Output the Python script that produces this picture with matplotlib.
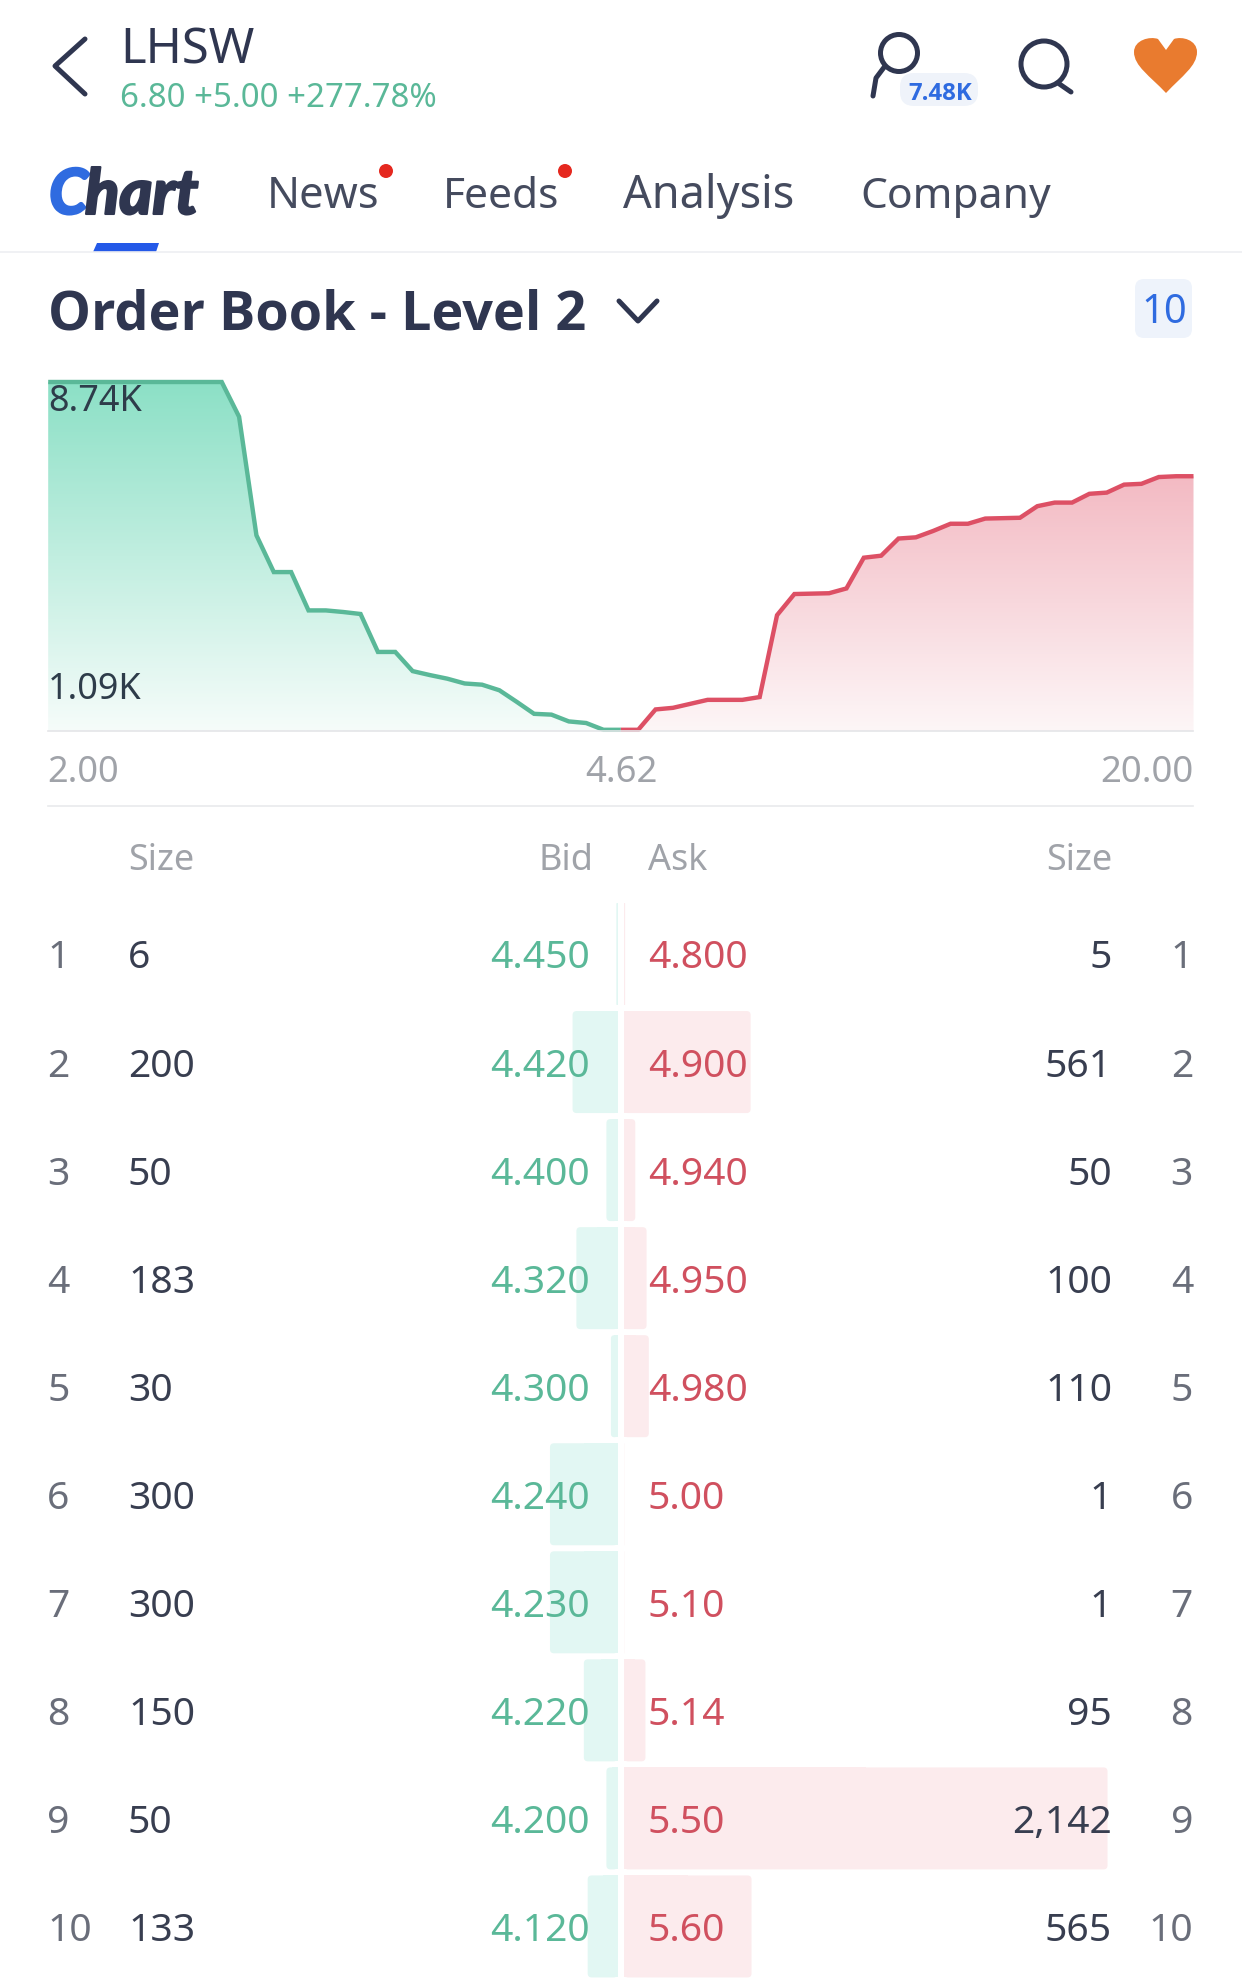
"""Order book screen: depth chart and level 2 table."""
import matplotlib
matplotlib.use("Agg")
import matplotlib.patheffects as pe
import matplotlib.pyplot as plt
import numpy as np
from matplotlib.colors import LinearSegmentedColormap
from matplotlib.patches import Circle, FancyBboxPatch, PathPatch, Polygon, Rectangle
from matplotlib.path import Path

W, H = 1242, 1982
DPI = 100

plt.rcParams["font.family"] = ["Noto Sans", "DejaVu Sans"]

# depth curves, thousands of shares, one value per step of the chart
bid_depth = [8.74, 8.74, 8.74, 8.74, 8.74, 8.74, 8.74, 8.74, 8.74, 8.74, 8.74,
             7.87, 4.90, 3.98, 3.98, 3.02, 3.02, 2.98, 2.93, 1.98, 1.98, 1.50,
             1.40, 1.31, 1.19, 1.16, 1.02, 0.73, 0.43, 0.41, 0.24, 0.20, 0.03, 0.03]
ask_depth = [0.03, 0.03, 0.54, 0.58, 0.68, 0.78, 0.78, 0.78, 0.85, 2.90, 3.43, 3.44,
             3.45, 3.57, 4.34, 4.39, 4.82, 4.85, 5.01, 5.19, 5.19, 5.32, 5.33, 5.34,
             5.63, 5.72, 5.72, 5.94, 5.97, 6.17, 6.19, 6.36, 6.38, 6.38]
depth_labels = ["8.74K", "1.09K"]
price_ticks = ["2.00", "4.62", "20.00"]

# level 2 table
levels = [1, 2, 3, 4, 5, 6, 7, 8, 9, 10]
bid_sizes = [6, 200, 50, 183, 30, 300, 300, 150, 50, 133]
bid_prices = ["4.450", "4.420", "4.400", "4.320", "4.300", "4.240", "4.230", "4.220", "4.200", "4.120"]
ask_prices = ["4.800", "4.900", "4.940", "4.950", "4.980", "5.00", "5.10", "5.14", "5.50", "5.60"]
ask_sizes = [5, 561, 50, 100, 110, 1, 1, 95, 2142, 565]

tabs = ["News", "Feeds", "Analysis", "Company"]

DARK = "#2f3650"
GREEN = "#5ab898"
RED = "#d0505f"
GREY = "#a0a3a9"
BLUE = "#2f6be0"
ROW_TEXT = "#383e50"
RANK_TEXT = "#6a6e7a"


def fs(px):
    return px * 72 / DPI


def px_axes(x0, y0, x1, y1):
    ax = fig.add_axes([x0 / W, 1 - y1 / H, (x1 - x0) / W, (y1 - y0) / H])
    ax.patch.set_alpha(0)
    ax.set_axis_off()
    return ax


def put(x, y, s, size, color, ha="left", **kw):
    return ui.text(x, y, s, fontsize=fs(size), color=color, ha=ha, va="baseline", **kw)


def stroke(pts, lw, color=DARK):
    ui.plot(*zip(*pts), color=color, lw=lw * 72 / DPI, solid_capstyle="round",
            solid_joinstyle="round")


fig = plt.figure(figsize=(W / DPI, H / DPI), dpi=DPI, facecolor="white")

# screen furniture in pixel coordinates
ui = px_axes(0, 0, W, H)
ui.set_xlim(0, W)
ui.set_ylim(H, 0)
ui.set_zorder(5)

stroke([(85, 39), (55, 66), (85, 94)], 5)
put(120, 63, "LHSW", 49, DARK)
put(120, 107, "6.80 +5.00 +277.78%", 33, GREEN)

# person icon
ui.add_patch(Circle((899, 53), 18.5, fill=False, ec=DARK, lw=fs(5)))
stroke([(885, 66), (876, 78), (873, 96)], 5)
ui.add_patch(FancyBboxPatch((900, 73), 78, 33, boxstyle="round,pad=0,rounding_size=14",
                            fc="#eff3fa", ec="none"))
put(940, 100, "7.48K", 24, BLUE, ha="center", family="Open Sans", fontweight="bold")

# search icon
ui.add_patch(Circle((1044, 64), 23, fill=False, ec=DARK, lw=fs(5)))
stroke([(1058, 83), (1071, 92)], 5)

# heart
heart = Path([(1166, 93), (1150, 76), (1134, 66), (1134, 52), (1134, 40), (1150, 36),
              (1158, 39), (1166, 50), (1174, 39), (1182, 36), (1197, 40), (1197, 52),
              (1197, 66), (1182, 76), (1166, 93)],
             [Path.MOVETO, Path.CURVE4, Path.CURVE4, Path.CURVE4, Path.CURVE4, Path.CURVE4,
              Path.CURVE4, Path.LINETO, Path.LINETO, Path.CURVE4, Path.CURVE4, Path.CURVE4,
              Path.CURVE4, Path.CURVE4, Path.CURVE4])
ui.add_patch(PathPatch(heart, fc="#e97b2f", ec="none"))

# tabs
for s, x, color in [("C", 49, "#2f6be0"), ("hart", 85, DARK)]:
    t = put(x, 214, s, 63, color, family="Lato", fontweight="black", fontstyle="italic")
    t.set_path_effects([pe.withStroke(linewidth=1.5, foreground=color)])
for label, x, size in zip(tabs, [267, 443, 623, 860], [43.5, 42.5, 45, 42.5]):
    put(x, 208, label, size, "#454b5e")
for x in [386, 565]:
    ui.add_patch(Circle((x, 171), 7, fc="#e5281f", ec="none"))
ui.add_patch(Polygon([(97, 243), (159, 243), (156, 252), (93, 252)], fc="#2459e8", ec="none"))
ui.plot([0, W], [252, 252], color="#eeeff2", lw=1.2)

# order book heading
put(48, 329, "Order Book - Level 2", 54, DARK, family="Open Sans", fontweight="bold")
stroke([(619, 301), (638, 321), (657, 301)], 5)
ui.add_patch(FancyBboxPatch((1135, 279), 57, 59, boxstyle="round,pad=0,rounding_size=9",
                            fc="#eef3fb", ec="none"))
put(1164, 323, "10", 40, BLUE, ha="center")

# depth chart
chart = px_axes(48.2, 382, 1193.5, 731)
bid_x = np.arange(len(bid_depth))
ask_x = np.arange(len(ask_depth)) + len(bid_depth) - 1

for xs, ys, base, top, line in [(bid_x, bid_depth, "#f6fcfa", "#8ce0c6", GREEN),
                                (ask_x, ask_depth, "#fdf6f7", "#f3bac3", "#dd5065")]:
    cmap = LinearSegmentedColormap.from_list("fade", [base, top])
    grad = np.linspace(1, 0, 256).reshape(-1, 1)
    im = chart.imshow(grad, cmap=cmap, vmin=0, vmax=1, aspect="auto",
                      extent=(xs[0], xs[-1], 0, max(ys)), zorder=1)
    poly = chart.fill_between(xs, 0, ys, color="none")
    im.set_clip_path(poly.get_paths()[0], transform=chart.transData)
    chart.plot(xs, ys, color=line, lw=fs(4.4), clip_on=False, zorder=3,
               solid_joinstyle="miter", solid_capstyle="butt")
chart.set_xlim(0, ask_x[-1])
chart.set_ylim(0, max(bid_depth))

put(48, 411, depth_labels[0], 36, "#2e3c4a")
put(48, 699, depth_labels[1], 36, "#2e3c4a")
ui.plot([48, 1193], [731, 731], color="#e4e5e8", lw=1.2)
put(47, 782, price_ticks[0], 36, GREY)
put(621, 782, price_ticks[1], 36.5, GREY, ha="center")
put(1193, 782, price_ticks[2], 36.5, GREY, ha="right")
ui.plot([48, 1193], [806, 806], color="#e9eaec", lw=1.2)

# table header
put(128, 870, "Size", 36, GREY)
put(593, 870, "Bid", 36, GREY, ha="right")
put(648, 870, "Ask", 36, GREY)
put(1112, 870, "Size", 36, GREY, ha="right")

# depth bars behind the prices, same shares-per-pixel on each side
SHARES_PER_PX = 4.43
ROW_H = 108.05
TOP = 954 - ROW_H / 2
bars_bid = px_axes(48, TOP, 617.7, H)
bars_ask = px_axes(624, TOP, 1193, H)
for ax, sizes, color in [(bars_bid, bid_sizes, "#e2f7f3"), (bars_ask, ask_sizes, "#fcebed")]:
    ax.set_ylim((H - TOP) / ROW_H - 0.5, -0.5)
    span = (ax.get_position().width * W) * SHARES_PER_PX
    if ax is bars_bid:
        ax.set_xlim(span, 0)
    else:
        ax.set_xlim(0, span)
    for i, size in enumerate(sizes):
        r = min(18, size / 2)
        aspect = (4 / ROW_H) / 18
        ax.add_patch(FancyBboxPatch((0, i - 0.472), size, 0.944, mutation_aspect=aspect,
                                    boxstyle=f"round,pad=0,rounding_size={r}",
                                    fc=color, ec="none"))
        ax.add_patch(Rectangle((0, i - 0.472), size / 2, 0.944, fc=color, ec="none"))

rows = px_axes(0, 0, W, H)
rows.set_xlim(0, W)
rows.set_ylim(H, 0)
for i, level in enumerate(levels):
    y = 955 + ROW_H * i + 13.5
    kw = dict(fontsize=fs(39), va="baseline")
    rows.text(47, y, str(level), color=RANK_TEXT, **kw)
    rows.text(128, y, str(bid_sizes[i]), color=ROW_TEXT, **kw)
    rows.text(590, y, bid_prices[i], color=GREEN, ha="right", **kw)
    rows.text(648, y, ask_prices[i], color=RED, **kw)
    rows.text(1112, y, f"{ask_sizes[i]:,}", color=ROW_TEXT, ha="right", **kw)
    rows.text(1193, y, str(level), color=RANK_TEXT, ha="right", **kw)

fig.savefig("out.png", dpi=DPI, facecolor="white")
